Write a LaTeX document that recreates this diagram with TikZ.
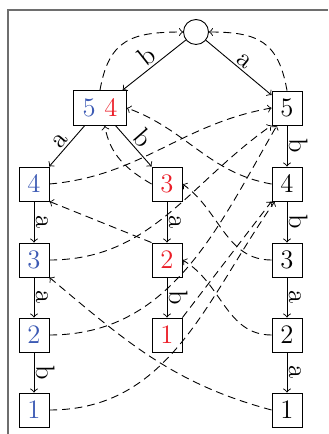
\documentclass[tikz,border=0pt]{standalone}
\definecolor{cblue}{RGB}{60,90,180}
\definecolor{cred}{RGB}{235,30,40}
\definecolor{framegray}{RGB}{110,110,110}
\begin{document}
\begin{tikzpicture}[x=0.45pt,y=0.45pt,
  box/.style={draw, minimum width=13.5pt, minimum height=15.3pt, inner sep=0pt, font=\large},
  lbl/.style={midway, sloped, above, inner sep=1pt, font=\large},
  dlink/.style={->, dash pattern=on 3.5pt off 2.2pt},
  tedge/.style={->}]
\useasboundingbox (0,0) rectangle (328,434);
\draw[framegray, line width=0.7pt] (8,0) -- (8,424) -- (328,424);
% nodes
\node[draw, circle, minimum size=11.25pt, inner sep=0pt] (c) at (196,402) {};
\node[box, minimum width=23.85pt, minimum height=15.75pt] (n54) at (100,326) {\textcolor{cblue}{5} \textcolor{cred}{4}};
\node[box] (r5) at (287,326) {5};
\node[box] (r4) at (287,250) {4};
\node[box] (r3) at (287,174) {3};
\node[box] (r2) at (287,99) {2};
\node[box] (r1) at (287,24) {1};
\node[box, text=cblue] (b4) at (34,250) {4};
\node[box, text=cblue] (b3) at (34,174) {3};
\node[box, text=cblue] (b2) at (34,99) {2};
\node[box, text=cblue] (b1) at (34,24) {1};
\node[box, text=cred] (m3) at (167,250) {3};
\node[box, text=cred] (m2) at (167,174) {2};
\node[box, text=cred] (m1) at (167,99) {1};
% trie edges
\draw[tedge] (c) -- node[lbl]{b} (n54);
\draw[tedge] (c) -- node[lbl]{a} (r5);
\draw[tedge] (n54) -- node[lbl]{a} (b4);
\draw[tedge] (n54) -- node[lbl]{b} (m3);
\draw[tedge] (b4) -- node[lbl]{a} (b3);
\draw[tedge] (b3) -- node[lbl]{a} (b2);
\draw[tedge] (b2) -- node[lbl]{b} (b1);
\draw[tedge] (m3) -- node[lbl]{a} (m2);
\draw[tedge] (m2) -- node[lbl]{b} (m1);
\draw[tedge] (r5) -- node[lbl]{b} (r4);
\draw[tedge] (r4) -- node[lbl]{b} (r3);
\draw[tedge] (r3) -- node[lbl]{a} (r2);
\draw[tedge] (r2) -- node[lbl]{a} (r1);
% failure links
\draw[dlink] (n54.north) to[out=80,in=180,looseness=1.3] (c.west);
\draw[dlink] (r5.north) to[out=100,in=0,looseness=1.3] (c.east);
\draw[dlink] (r4.west) to[out=170,in=-20] (n54.east);
\draw[dlink] (b4.east) to[out=5,in=190] (r5.west);
\draw[dlink] (b3.east) to[out=0,in=215] (r5.south west);
\draw[dlink] (b2.east) to[out=0,in=240] (r5.-120);
\draw[dlink] (b1.east) to[out=0,in=235] (r4.-125);
\draw[dlink] (m1.north east) -- (r4.south west);
\draw[dlink] (m2.north west) -- (b4.south east);
\draw[dlink] (m3.west) to[out=150,in=-80] (n54.-75);
\draw[dlink] (r3.west) to[out=180,in=-35] (m3.east);
\draw[dlink] (r2.west) to[out=180,in=-30] (m2.east);
\draw[dlink] (r1.west) to[out=165,in=-40] (b3.south east);
\end{tikzpicture}
\end{document}
